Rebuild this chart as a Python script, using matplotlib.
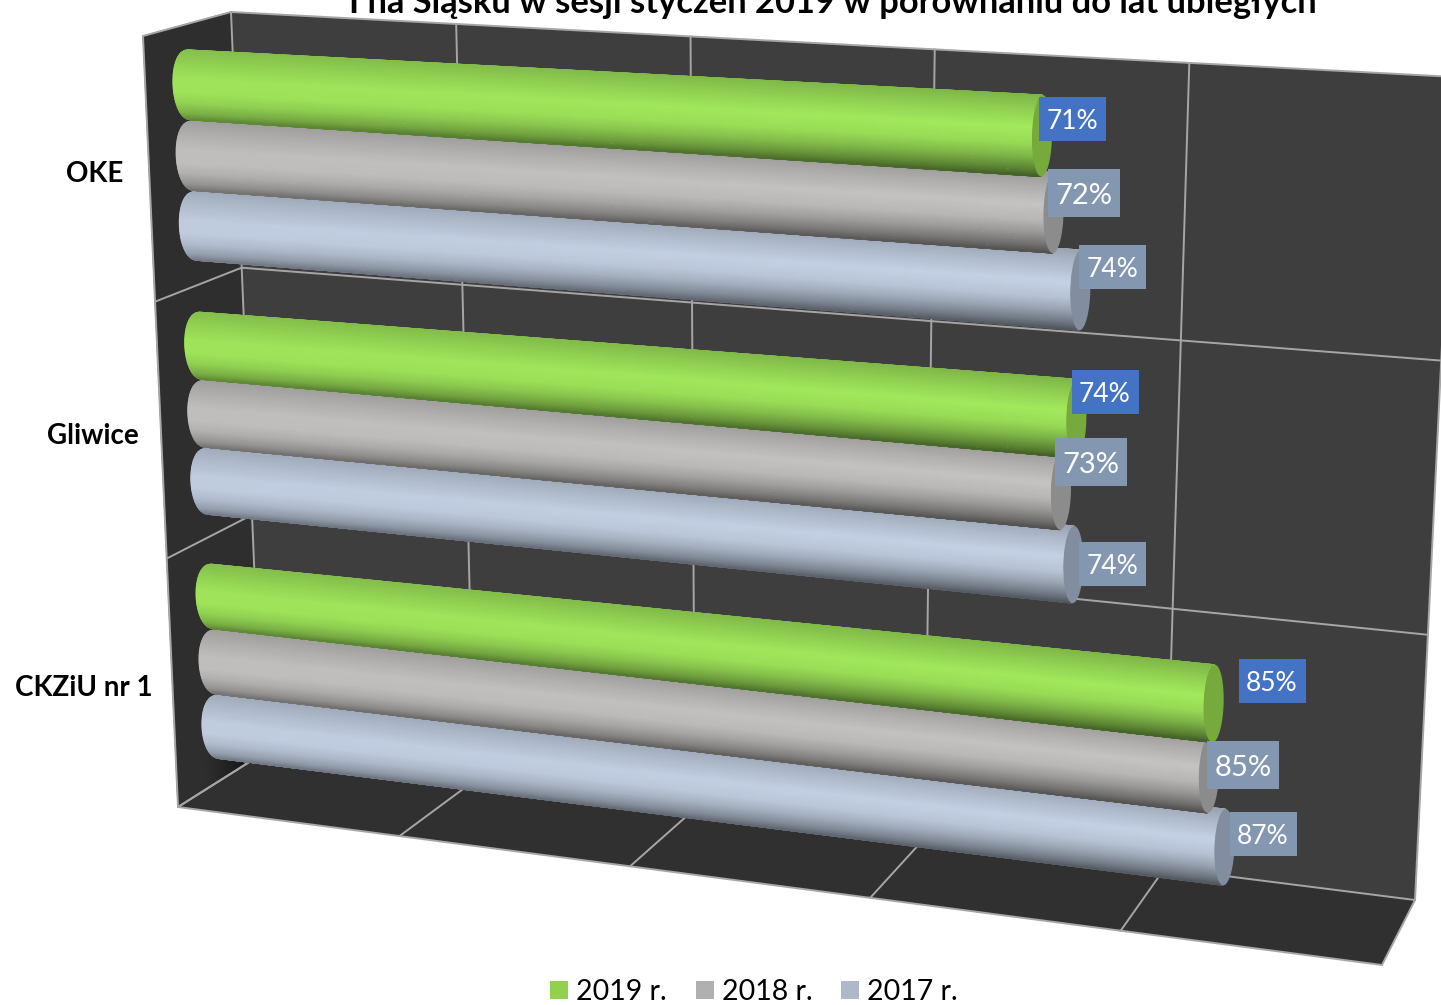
# 3D look cylinder bars, exam pass rate by centre
import numpy as np
import matplotlib
matplotlib.use('Agg')
import matplotlib.pyplot as plt
from matplotlib.patches import Rectangle, Polygon

plt.rcParams['font.family'] = ['Lato', 'DejaVu Sans']

title = 'I na Śląsku w sesji styczeń 2019 w porównaniu do lat ubiegłych'
categories = ['OKE', 'Gliwice', 'CKZiU nr 1']
series = ['2019 r.', '2018 r.', '2017 r.']
# the labels show them rounded
values_2019 = [71.0, 74.1, 85.4]
values_2018 = [72.0, 73.0, 85.2]
values_2017 = [74.2, 74.1, 86.6]
value_ticks = [0, 20, 40, 60, 80, 100]

# perspective planes, pixel corners: top left, top right, bottom left, bottom right
BAR_PLANE = [(190, 85), (1428, 159), (219, 727), (1397, 868)]
BACK_WALL = [(231, 12), (1455, 77), (262, 754), (1415, 900)]
FLOOR = [(262, 754), (1415, 900), (178, 807), (1382, 965)]
LEFT_WALL = [(143, 36), (231, 12), (178, 807), (262, 754)]

# foreshortening of the value axis and of the category axis
VALUE_WARP = 0.109
ROW_WARP = -0.049

GROUP_GAP = 1.73
LAST_ROW = 3 * 2 + 2 * GROUP_GAP

# highlight colour of each cylinder, end cap colour
bar_colors = [(163, 234, 92), (197, 196, 194), (197, 210, 229)]
cap_colors = [(118, 170, 60), (140, 140, 140), (130, 142, 160)]
legend_colors = ['#92D050', '#B0B0B0', '#ADB9CA']
label_boxes = ['#4472C4', '#8497B0', '#8497B0']

# label centres in pixels, same order as the values
label_xy = [[(1072, 119), (1105, 392), (1272, 681)],
            [(1084, 193), (1091, 462), (1243, 765)],
            [(1112, 267), (1112, 564), (1263, 834)]]
label_size = [(67, 44), (72, 48), (67, 44)]
label_font = [19, 21, 19]


def warp(a, b):
    a = np.asarray(a, dtype=float)
    return a / (1 + b * (1 - a))


def project(quad, u, v, bu=0.0, bv=0.0):
    (x0, y0), (x1, y1), (x2, y2), (x3, y3) = quad
    u = warp(u, bu)
    v = warp(v, bv)
    x = (x0 * (1 - u) + x1 * u) * (1 - v) + (x2 * (1 - u) + x3 * u) * v
    y = (y0 * (1 - u) + y1 * u) * (1 - v) + (y2 * (1 - u) + y3 * u) * v
    return x, y


fig = plt.figure(figsize=(14.41, 10.05), dpi=100)
ax = fig.add_axes([0, 0, 1, 1])
ax.set_xlim(0, 1441)
ax.set_ylim(1005, 0)
ax.axis('off')


def quad_patch(quad, color, z=1):
    a, b, c, d = quad
    ax.add_patch(Polygon([a, b, d, c], closed=True, fc=color, ec='none', zorder=z))


def plane_line(quad, u0, v0, u1, v1, bu=0.0, bv=0.0, color='#a6a6a6', lw=1.4, z=2):
    x, y = project(quad, np.array([u0, u1]), np.array([v0, v1]), bu=bu, bv=bv)
    ax.plot(x, y, color=color, lw=lw, zorder=z, solid_capstyle='round')


quad_patch(BACK_WALL, '#3e3e3e')
quad_patch(FLOOR, '#303030')

# left wall gets darker into the bottom corner
lw_u, lw_v = np.meshgrid(np.linspace(0, 1, 12), np.linspace(0, 1, 24))
lw_x, lw_y = project(LEFT_WALL, lw_u, lw_v)
shade = 46 - 34 * np.clip(lw_u - 0.35, 0, 1) / 0.65 * np.clip(lw_v - 0.75, 0, 1) / 0.25
lw_c = np.dstack([shade, shade, shade, np.full_like(shade, 255)]) / 255.0
ax.pcolormesh(lw_x, lw_y, lw_c, shading='gouraud', zorder=1)

# grid on the walls and the floor
for tick in value_ticks:
    u = tick / 100
    plane_line(BACK_WALL, u, 0, u, 1, bu=VALUE_WARP)
    plane_line(FLOOR, u, 0, u, 1, bu=VALUE_WARP)
for frac in [0, 1 / 3, 2 / 3, 1]:
    plane_line(BACK_WALL, 0, frac, 1, frac, bv=ROW_WARP)
    plane_line(LEFT_WALL, 0, frac, 1, frac, bv=ROW_WARP)
plane_line(LEFT_WALL, 0, 0, 0, 1)
plane_line(FLOOR, 0, 1, 1, 1)

# cylinder shading, brightness across the bar from top to bottom edge
profile_t = [-1, -0.6, -0.2, 0.2, 0.5, 0.8, 1]
profile_left = [0.82, 0.90, 0.97, 0.97, 0.90, 0.76, 0.60]
profile_right = [0.78, 0.90, 1.0, 0.93, 0.78, 0.58, 0.42]
LEFT_BULGE = 17
RIGHT_BULGE = 10


def half_width(u):
    return 0.49 + 0.06 * u


def draw_bar(row, value, rgb, cap_rgb, z):
    end = value / 100
    t = np.sin(np.linspace(-np.pi / 2, np.pi / 2, 61))
    s = np.linspace(0, 1, 30)
    S, T = np.meshgrid(s, t)
    x, y = project(BAR_PLANE, S * end, (row + half_width(S * end) * T) / LAST_ROW,
                   bu=VALUE_WARP, bv=ROW_WARP)
    # the rounded start is a bit fuller than a plain ellipse
    power = 0.42 + 0.08 * S
    round_t = np.clip(1 - T ** 2, 0, 1) ** power
    x = x - round_t * (LEFT_BULGE + (RIGHT_BULGE - LEFT_BULGE) * S)
    shade_l = np.interp(t, profile_t, profile_left)
    shade_r = np.interp(t, profile_t, profile_right)
    shade_map = shade_l[:, None] * (1 - s) + shade_r[:, None] * s
    colors = np.dstack([shade_map * rgb[0], shade_map * rgb[1], shade_map * rgb[2]]) / 255.0
    colors = np.dstack([colors, np.ones_like(shade_map)])
    ax.pcolormesh(x, y, colors, shading='gouraud', zorder=z)
    # end cap
    cx, cy = project(BAR_PLANE, np.full_like(t, end), (row + half_width(end) * t) / LAST_ROW,
                     bu=VALUE_WARP, bv=ROW_WARP)
    bulge = RIGHT_BULGE * np.sqrt(np.clip(1 - t ** 2, 0, 1))
    pts = np.r_[np.c_[cx + bulge, cy], np.c_[cx - bulge, cy][::-1]]
    ax.add_patch(Polygon(pts, closed=True, fc=np.array(cap_rgb) / 255.0, ec='none', zorder=z + 0.5))


all_values = [values_2019, values_2018, values_2017]
rows = []
for g in range(len(categories)):
    for k in range(len(series)):
        rows.append((g * (2 + GROUP_GAP) + k, g, k))

# upper bars overlap the ones below them
z = 30
for row, g, k in rows[::-1]:
    draw_bar(row, all_values[k][g], bar_colors[k], cap_colors[k], z)
    z += 1

for k in range(len(series)):
    w, h = label_size[k]
    for g in range(len(categories)):
        cx, cy = label_xy[k][g]
        ax.add_patch(Rectangle((cx - w / 2, cy - h / 2), w, h, fc=label_boxes[k], ec='none', zorder=60))
        ax.text(cx, cy + 2.5, '%.0f%%' % all_values[k][g], color='white', fontsize=label_font[k],
                ha='center', va='center', zorder=61)

# category names
cat_xy = [(95, 174), (93, 436), (84, 688)]
for name, (cx, cy) in zip(categories, cat_xy):
    ax.text(cx, cy, name, fontsize=20, fontweight='bold', color='black', ha='center', va='center')

# title runs off the top of the picture
ax.text(833, 13, title, fontsize=24.8, fontweight='bold', color='black', ha='center', va='baseline')

# legend
legend_x = [550, 696, 841]
for name, color, x0 in zip(series, legend_colors, legend_x):
    ax.add_patch(Rectangle((x0, 981), 18, 18, fc=color, ec='none'))
    ax.text(x0 + 26, 1000, name, fontsize=20.5, color='black', ha='left', va='baseline')

fig.savefig('out.png', dpi=100, facecolor='white')
